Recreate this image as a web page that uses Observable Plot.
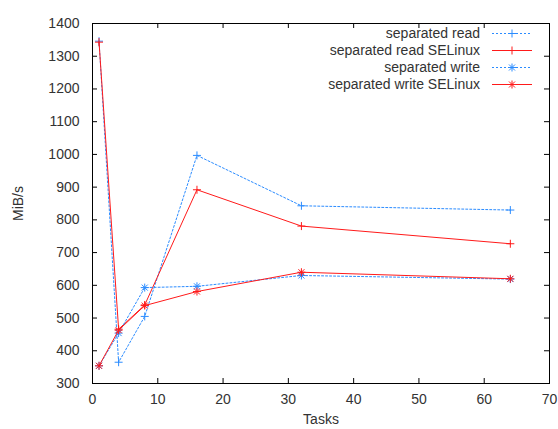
<!DOCTYPE html>
<html>
<head>
<meta charset="utf-8">
<script src="https://cdn.jsdelivr.net/npm/d3@7"></script>
<script src="https://cdn.jsdelivr.net/npm/@observablehq/plot@0.6"></script>
<style>
  html, body { margin: 0; padding: 0; background: #fff; }
  #wrap { position: relative; width: 558px; height: 429px; font-family: "Liberation Sans", Arial, sans-serif; }
  #legend { position: absolute; left: 0; top: 0; pointer-events: none; }
</style>
</head>
<body>
<div id="wrap"></div>
<script>
const tasks = [1, 4, 8, 16, 32, 64];
const readVals = [1346, 365, 505, 997, 843, 830];
const readSEVals = [1343, 466, 540, 892, 781, 727];
const writeVals = [354, 454, 593, 597, 630, 619];
const writeSEVals = [354, 463, 538, 581, 640, 620];

const seriesNames = ["separated read", "separated read SELinux", "separated write", "separated write SELinux"];
const seriesValues = [readVals, readSEVals, writeVals, writeSEVals];
const seriesColors = ["#2b8cff", "#ff1a1a", "#2b8cff", "#ff1a1a"];
const seriesDash = ["2,2", null, "2,2", null];
const seriesMarker = ["plus", "plus", "star", "star"];

const xDomain = [0, 70];
const yDomain = [300, 1400];
const xTicks = [0, 10, 20, 30, 40, 50, 60, 70];
const yTicks = [300, 400, 500, 600, 700, 800, 900, 1000, 1100, 1200, 1300, 1400];

const W = 558, H = 429;
const mL = 92, mR = 9, mT = 23, mB = 46;
const fw = W - mL - mR, fh = H - mT - mB;
const tickLen = 5;
const FONT = "'Liberation Sans', Arial, sans-serif";
const FS = 14;
const TXT = "#333";

const plusSym = {draw(ctx, size) { const r = Math.sqrt(size / Math.PI); ctx.moveTo(-r, 0); ctx.lineTo(r, 0); ctx.moveTo(0, -r); ctx.lineTo(0, r); }};
const starSym = {draw(ctx, size) { const r = Math.sqrt(size / Math.PI); const d = r * 0.75; ctx.moveTo(-r, 0); ctx.lineTo(r, 0); ctx.moveTo(0, -r); ctx.lineTo(0, r); ctx.moveTo(-d, -d); ctx.lineTo(d, d); ctx.moveTo(-d, d); ctx.lineTo(d, -d); }};
const symOf = m => m === "plus" ? plusSym : starSym;

const rows = [];
seriesNames.forEach((name, si) => tasks.forEach((t, i) => rows.push({series: name, si, x: t, y: seriesValues[si][i]})));

const marks = [];
marks.push(Plot.tickX(xTicks, {x: d => d, insetTop: fh - tickLen, stroke: "#000"}));
marks.push(Plot.tickX(xTicks, {x: d => d, insetBottom: fh - tickLen, stroke: "#000"}));
marks.push(Plot.tickY(yTicks, {y: d => d, insetRight: fw - tickLen, stroke: "#000"}));
marks.push(Plot.tickY(yTicks, {y: d => d, insetLeft: fw - tickLen, stroke: "#000"}));
marks.push(Plot.axisX(xTicks, {tickSize: 0, tickPadding: 11, label: null, fill: TXT, fontSize: FS, tickFormat: d3.format("d")}));
marks.push(Plot.axisY(yTicks, {tickSize: 0, tickPadding: 13, label: null, fill: TXT, fontSize: FS, tickFormat: d3.format("d")}));
marks.push(Plot.frame({stroke: "#000"}));

seriesNames.forEach((name, si) => {
  const data = rows.filter(r => r.si === si);
  marks.push(Plot.line(data, {x: "x", y: "y", stroke: seriesColors[si], strokeWidth: 1, strokeDasharray: seriesDash[si]}));
  marks.push(Plot.dot(data, {x: "x", y: "y", r: 4, symbol: symOf(seriesMarker[si]), stroke: seriesColors[si], fill: "none", strokeWidth: 1}));
});

marks.push(Plot.text(["MiB/s"], {frameAnchor: "left", dx: -74, rotate: -90, textAnchor: "middle", lineAnchor: "middle", fill: TXT, fontSize: FS}));
marks.push(Plot.text(["Tasks"], {frameAnchor: "bottom", dy: 36, textAnchor: "middle", lineAnchor: "middle", fill: TXT, fontSize: FS}));

const chart = Plot.plot({
  width: W, height: H,
  marginLeft: mL, marginRight: mR, marginTop: mT, marginBottom: mB,
  x: {type: "linear", domain: xDomain},
  y: {type: "linear", domain: yDomain},
  style: {fontFamily: FONT, fontSize: FS + "px", background: "#fff", color: TXT},
  marks
});
document.getElementById("wrap").appendChild(chart);

const ns = "http://www.w3.org/2000/svg";
const lg = document.createElementNS(ns, "svg");
lg.setAttribute("id", "legend");
lg.setAttribute("width", W);
lg.setAttribute("height", 100);
const textRight = 480, sx1 = 492, sx2 = 532, rowY0 = 33.5, rowStep = 17;
seriesNames.forEach((name, si) => {
  const y = rowY0 + si * rowStep;
  const t = document.createElementNS(ns, "text");
  t.setAttribute("x", textRight); t.setAttribute("y", y);
  t.setAttribute("text-anchor", "end"); t.setAttribute("dy", "0.35em");
  t.setAttribute("font-size", FS); t.setAttribute("fill", TXT);
  t.setAttribute("font-family", FONT);
  t.textContent = name;
  lg.appendChild(t);
  const l = document.createElementNS(ns, "line");
  l.setAttribute("x1", sx1); l.setAttribute("x2", sx2); l.setAttribute("y1", y); l.setAttribute("y2", y);
  l.setAttribute("stroke", seriesColors[si]);
  if (seriesDash[si]) l.setAttribute("stroke-dasharray", seriesDash[si]);
  lg.appendChild(l);
  const p = document.createElementNS(ns, "path");
  const ctx = d3.path();
  symOf(seriesMarker[si]).draw(ctx, 16 * Math.PI);
  p.setAttribute("d", ctx.toString());
  p.setAttribute("transform", `translate(${(sx1 + sx2) / 2},${y})`);
  p.setAttribute("stroke", seriesColors[si]); p.setAttribute("fill", "none");
  lg.appendChild(p);
});
document.getElementById("wrap").appendChild(lg);
</script>
</body>
</html>
